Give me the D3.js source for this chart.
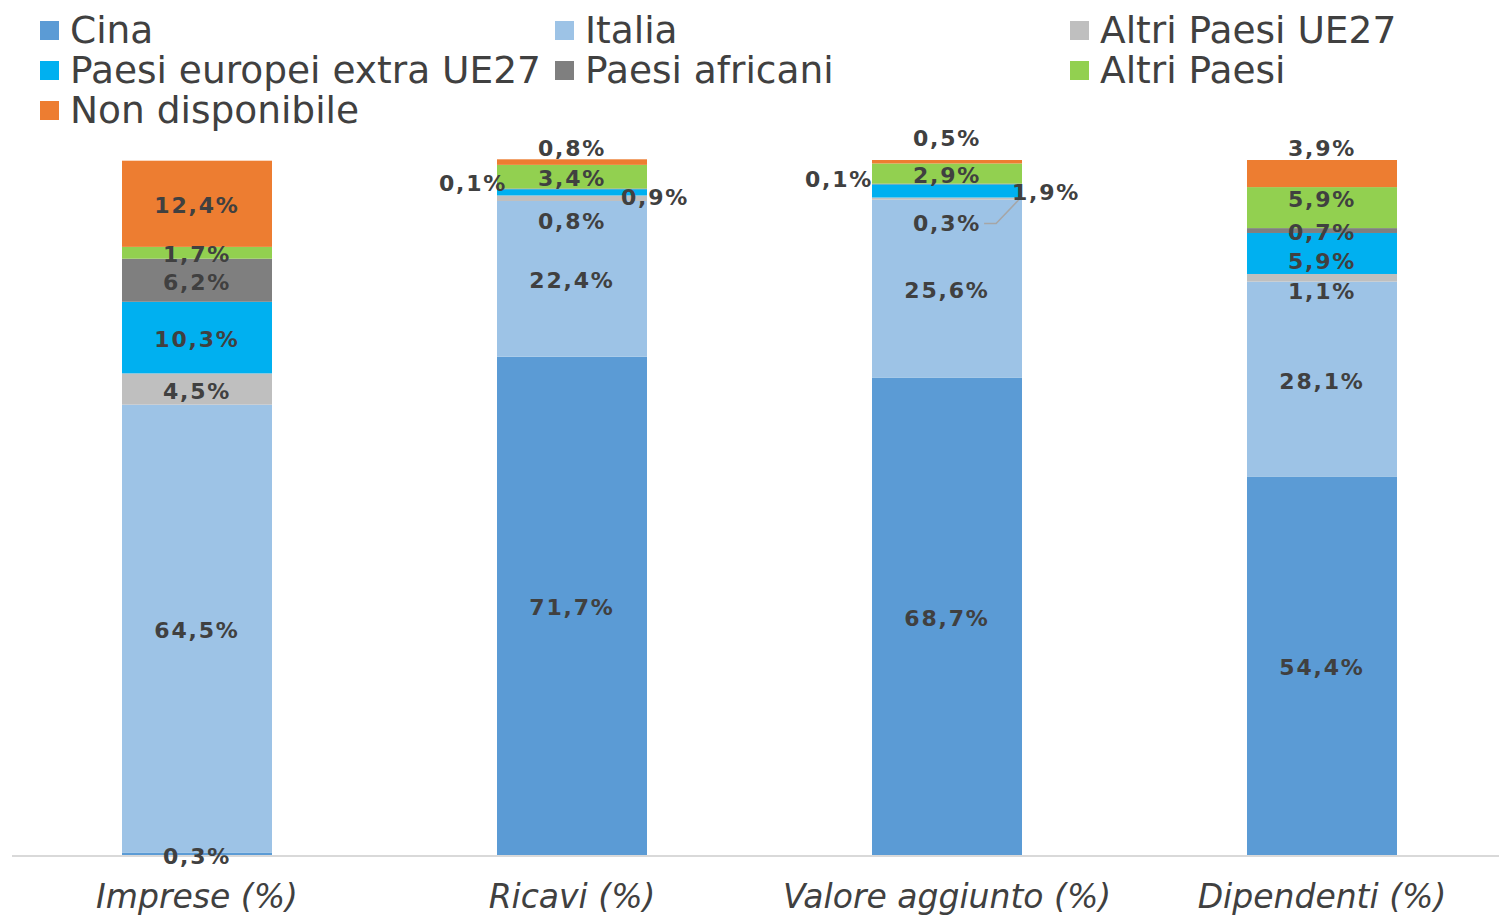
<!DOCTYPE html>
<html>
<head>
<meta charset="utf-8">
<script src="https://cdn.jsdelivr.net/npm/d3@7"></script>
<style>
  html, body { margin: 0; padding: 0; background: #fff; }
  svg { display: block; }
</style>
</head>
<body>
<svg id="chart" width="1499" height="919"></svg>
<script>
// ---- Data ----
const categories = ["Imprese (%)", "Ricavi (%)", "Valore aggiunto (%)", "Dipendenti (%)"];
const seriesNames = ["Cina", "Italia", "Altri Paesi UE27", "Paesi europei extra UE27", "Paesi africani", "Altri Paesi", "Non disponibile"];
const cina            = [0.3, 71.7, 68.7, 54.4];
const italia          = [64.5, 22.4, 25.6, 28.1];
const altriUE27       = [4.5, 0.8, 0.3, 1.1];
const extraUE27       = [10.3, 0.9, 1.9, 5.9];
const africani        = [6.2, 0.1, 0.1, 0.7];
const altriPaesi      = [1.7, 3.4, 2.9, 5.9];
const nonDisponibile  = [12.4, 0.8, 0.5, 3.9];
const seriesValues = [cina, italia, altriUE27, extraUE27, africani, altriPaesi, nonDisponibile];
const colors = ["#5B9BD5", "#9DC3E6", "#BFBFBF", "#00B0F0", "#7F7F7F", "#92D050", "#ED7D31"];

// label nudges (series index, category index) -> [dx, dy] in px
const labelNudge = {
  "0-0": [0, 3],
  "6-1": [0, -14], "4-1": [-99, -5], "3-1": [83, 5], "2-1": [0, 23],
  "6-2": [0, -23], "4-2": [-108, -4], "3-2": [99, 2], "2-2": [0, 25],
  "6-3": [0, -25], "5-3": [0, -8], "3-3": [0, 8], "2-3": [0, 14]
};

const fmt = v => d3.format(".1f")(v).replace(".", ",") + "%";

// ---- Layout ----
const svg = d3.select("#chart");
const y = d3.scaleLinear().domain([0, 100]).range([855, 160]);
const x = d3.scaleBand().domain(categories).range([9.5, 1509.5]).paddingInner(0.6).paddingOuter(0.3);

const rows = categories.map((c, i) => {
  const r = { cat: c };
  seriesNames.forEach((s, k) => r[s] = seriesValues[k][i]);
  return r;
});
const stack = d3.stack().keys(seriesNames)(rows);

// bars
const g = svg.append("g");
stack.forEach((layer, k) => {
  g.selectAll(null).data(layer).join("rect")
    .attr("x", d => x(d.data.cat))
    .attr("width", x.bandwidth())
    .attr("y", d => y(d[1]))
    .attr("height", d => Math.max(0, y(d[0]) - y(d[1])))
    .attr("fill", colors[k]);
});

// axis line
svg.append("line").attr("x1", 12).attr("x2", 1499).attr("y1", 856).attr("y2", 856)
  .attr("stroke", "#D9D9D9").attr("stroke-width", 2);

// category labels
const xAxis = d3.axisBottom(x).tickSize(0).tickPadding(0);
const ax = svg.append("g").attr("transform", "translate(0,878)").call(xAxis);
ax.select(".domain").remove();
ax.selectAll("text")
  .attr("font-family", "DejaVu Sans, Verdana, sans-serif")
  .attr("font-size", 33)
  .attr("font-style", "italic")
  .attr("fill", "#404040")
  .attr("dy", "0.9em");

// value labels
const lg = svg.append("g");
stack.forEach((layer, k) => {
  layer.forEach((d, i) => {
    const nudge = labelNudge[k + "-" + i] || [0, 2];
    const cx = x(d.data.cat) + x.bandwidth() / 2 + nudge[0];
    const cy = (y(d[0]) + y(d[1])) / 2 + nudge[1];
    const t = lg.append("text")
      .attr("x", cx).attr("y", cy)
      .attr("text-anchor", "middle")
      .attr("dominant-baseline", "central")
      .attr("font-family", "DejaVu Sans, Verdana, sans-serif")
      .attr("font-size", 22)
      .attr("font-weight", "bold")
      .attr("letter-spacing", 1.8)
      .attr("fill", "#404040")
      .text(fmt(seriesValues[k][i]));
    if (k === 2 && i === 2) {
      const bb = t.node().getBBox();
      const xr = bb.x + bb.width + 3;
      const bx = x(d.data.cat) + x.bandwidth();
      lg.append("path")
        .attr("d", `M${xr},${cy} L${xr + 12},${cy} L${bx - 2},${y(d[1]) + 1}`)
        .attr("fill", "none").attr("stroke", "#A6A6A6").attr("stroke-width", 1.5);
    }
  });
});

// legend
const legendPos = [[40, 30], [555, 30], [1070, 30], [40, 70], [555, 70], [1070, 70], [40, 110]];
const leg = svg.append("g");
seriesNames.forEach((name, k) => {
  const [lx, ly] = legendPos[k];
  leg.append("rect").attr("x", lx).attr("y", ly - 9).attr("width", 19).attr("height", 19).attr("fill", colors[k]);
  leg.append("text").attr("x", lx + 30).attr("y", ly)
    .attr("dominant-baseline", "central")
    .attr("font-family", "DejaVu Sans, Verdana, sans-serif")
    .attr("font-size", 37.5)
    .attr("fill", "#404040")
    .text(name);
});
</script>
</body>
</html>
